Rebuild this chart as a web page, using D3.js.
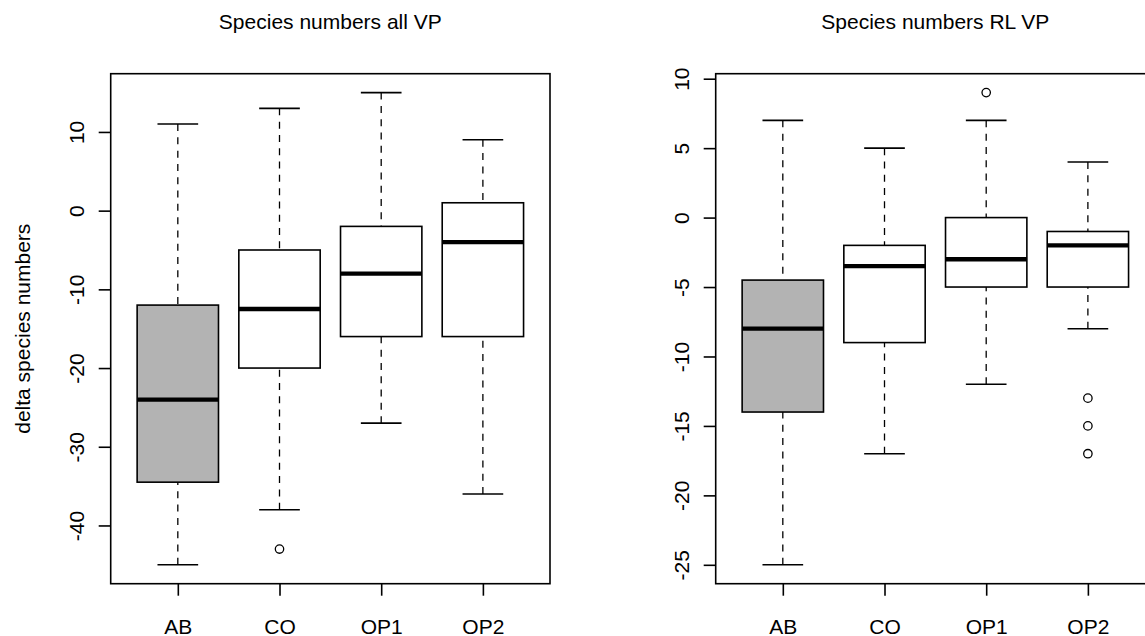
<!DOCTYPE html>
<html>
<head>
<meta charset="utf-8">
<script src="https://cdn.jsdelivr.net/npm/d3@7"></script>
<style>
  body { margin: 0; background: #fff; }
  svg { display: block; font-family: "Liberation Sans", Arial, sans-serif; }
</style>
</head>
<body>
<div id="chart"></div>
<script>
const categories = ['AB', 'CO', 'OP1', 'OP2'];

// left panel: all VP
const allLower = [-45, -38, -27, -36];
const allQ1 = [-34.5, -20, -16, -16];
const allMedian = [-24, -12.5, -8, -4];
const allQ3 = [-12, -5, -2, 1];
const allUpper = [11, 13, 15, 9];
const allOutliers = [[], [-43], [], []];
const allTicks = [-40, -30, -20, -10, 0, 10];

// right panel: RL VP
const rlLower = [-25, -17, -12, -8];
const rlQ1 = [-14, -9, -5, -5];
const rlMedian = [-8, -3.5, -3, -2];
const rlQ3 = [-4.5, -2, 0, -1];
const rlUpper = [7, 5, 7, 4];
const rlOutliers = [[], [], [9], [-13, -15, -17]];
const rlTicks = [-25, -20, -15, -10, -5, 0, 5, 10];

const width = 1145;
const height = 636;
const fontSize = 21;
const highlightFill = '#b3b3b3';

const svg = d3.select('#chart')
  .append('svg')
  .attr('width', width)
  .attr('height', height);

const drawPanel = (opts) => {
  const { left, right, top, bottom, title, ticks, ylabel } = opts;
  const stats = categories.map((c, i) => ({
    name: c,
    idx: i + 1,
    lower: opts.lower[i],
    q1: opts.q1[i],
    median: opts.median[i],
    q3: opts.q3[i],
    upper: opts.upper[i],
    outliers: opts.outliers[i],
  }));

  // R style 4% padding on both axes
  const allVals = stats.flatMap((d) => [d.lower, d.upper, ...d.outliers]);
  const [lo, hi] = d3.extent(allVals);
  const pad = (hi - lo) * 0.04;
  const y = d3.scaleLinear().domain([lo - pad, hi + pad]).range([bottom, top]);
  const xPad = (categories.length) * 0.04;
  const x = d3.scaleLinear()
    .domain([0.5 - xPad, categories.length + 0.5 + xPad])
    .range([left, right]);
  const unit = x(1) - x(0);
  const boxW = unit * 0.8;
  const capW = unit * 0.4;

  const g = svg.append('g');

  // whiskers
  const whisk = g.append('g')
    .attr('stroke', '#000')
    .attr('stroke-width', 1.3)
    .attr('stroke-dasharray', '7,6.3');
  whisk.selectAll('.wu').data(stats).enter().append('line')
    .attr('x1', (d) => x(d.idx)).attr('x2', (d) => x(d.idx))
    .attr('y1', (d) => y(d.upper)).attr('y2', (d) => y(d.q3));
  whisk.selectAll('.wl').data(stats).enter().append('line')
    .attr('x1', (d) => x(d.idx)).attr('x2', (d) => x(d.idx))
    .attr('y1', (d) => y(d.lower)).attr('y2', (d) => y(d.q1));

  // caps
  const caps = g.append('g').attr('stroke', '#000').attr('stroke-width', 1.6);
  caps.selectAll('.cu').data(stats).enter().append('line')
    .attr('x1', (d) => x(d.idx) - capW / 2).attr('x2', (d) => x(d.idx) + capW / 2)
    .attr('y1', (d) => y(d.upper)).attr('y2', (d) => y(d.upper));
  caps.selectAll('.cl').data(stats).enter().append('line')
    .attr('x1', (d) => x(d.idx) - capW / 2).attr('x2', (d) => x(d.idx) + capW / 2)
    .attr('y1', (d) => y(d.lower)).attr('y2', (d) => y(d.lower));

  // boxes
  g.selectAll('rect.box').data(stats).enter().append('rect')
    .attr('class', 'box')
    .attr('x', (d) => x(d.idx) - boxW / 2)
    .attr('width', boxW)
    .attr('y', (d) => y(d.q3))
    .attr('height', (d) => y(d.q1) - y(d.q3))
    .attr('fill', (d, i) => (i === 0 ? highlightFill : '#fff'))
    .attr('stroke', '#000')
    .attr('stroke-width', 1.6);

  // medians
  g.selectAll('line.med').data(stats).enter().append('line')
    .attr('x1', (d) => x(d.idx) - boxW / 2).attr('x2', (d) => x(d.idx) + boxW / 2)
    .attr('y1', (d) => y(d.median)).attr('y2', (d) => y(d.median))
    .attr('stroke', '#000')
    .attr('stroke-width', 4.3);

  // outliers
  const outPts = stats.flatMap((d) => d.outliers.map((v) => ({ idx: d.idx, v })));
  g.selectAll('circle').data(outPts).enter().append('circle')
    .attr('cx', (d) => x(d.idx))
    .attr('cy', (d) => y(d.v))
    .attr('r', 4.2)
    .attr('fill', 'none')
    .attr('stroke', '#000')
    .attr('stroke-width', 1.3);

  // frame
  g.append('rect')
    .attr('x', left).attr('y', top)
    .attr('width', right - left).attr('height', bottom - top)
    .attr('fill', 'none')
    .attr('stroke', '#000')
    .attr('stroke-width', 1.6);

  // y axis
  const yAxis = g.append('g')
    .attr('transform', `translate(${left},0)`)
    .call(d3.axisLeft(y).tickValues(ticks).tickSize(12).tickSizeOuter(0).tickFormat((d) => String(d)));
  yAxis.select('.domain').remove();
  yAxis.selectAll('.tick line').attr('stroke', '#000').attr('stroke-width', 1.6);
  yAxis.selectAll('.tick text')
    .attr('x', null)
    .attr('dy', '0.35em')
    .attr('text-anchor', 'middle')
    .attr('transform', 'translate(-34.5,0) rotate(-90)')
    .attr('font-size', fontSize)
    .attr('font-family', null)
    .attr('fill', '#000');

  // x axis
  const xAxis = g.append('g')
    .attr('transform', `translate(0,${bottom})`)
    .call(d3.axisBottom(x).tickValues(stats.map((d) => d.idx)).tickSize(12).tickSizeOuter(0)
      .tickFormat((d) => categories[d - 1]));
  xAxis.select('.domain').remove();
  xAxis.selectAll('.tick line').attr('stroke', '#000').attr('stroke-width', 1.6);
  xAxis.selectAll('.tick text')
    .attr('y', 50)
    .attr('dy', null)
    .attr('font-size', fontSize)
    .attr('font-family', null)
    .attr('fill', '#000');

  // title
  g.append('text')
    .attr('x', (left + right) / 2)
    .attr('y', 29)
    .attr('text-anchor', 'middle')
    .attr('font-size', fontSize)
    .text(title);

  if (ylabel) {
    g.append('text')
      .attr('transform', `translate(30,${(top + bottom) / 2}) rotate(-90)`)
      .attr('text-anchor', 'middle')
      .attr('font-size', fontSize)
      .text(ylabel);
  }
};

drawPanel({
  left: 110.7, right: 550, top: 73.7, bottom: 583.7,
  title: 'Species numbers all VP',
  ylabel: 'delta species numbers',
  ticks: allTicks,
  lower: allLower, q1: allQ1, median: allMedian, q3: allQ3, upper: allUpper, outliers: allOutliers,
});

drawPanel({
  left: 715.7, right: 1155, top: 73.7, bottom: 583.7,
  title: 'Species numbers RL VP',
  ticks: rlTicks,
  lower: rlLower, q1: rlQ1, median: rlMedian, q3: rlQ3, upper: rlUpper, outliers: rlOutliers,
});
</script>
</body>
</html>
